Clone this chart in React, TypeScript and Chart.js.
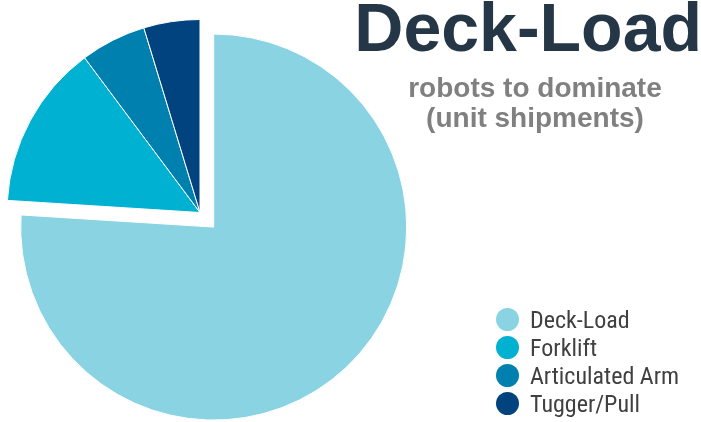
import React, { useEffect, useRef } from "react";
import { Chart, registerables } from "chart.js";

Chart.register(...registerables);

const categories = ["Deck-Load", "Forklift", "Articulated Arm", "Tugger/Pull"];
const shipments = [76, 13.8, 5.5, 4.7];
const sliceColors = ["#89d3e3", "#00b1d2", "#0080ae", "#00437f"];
const explode = [20, 0, 0, 0];
const titleText = "Deck-Load";
const subtitleLines = ["robots to dominate", "(unit shipments)"];

const explodePlugin = {
  id: "explodeSlices",
  beforeDatasetsDraw(chart: any) {
    const meta = chart.getDatasetMeta(0);
    const area = chart.chartArea;
    const cx = (area.left + area.right) / 2 + (meta.controller.offsetX || 0);
    const cy = (area.top + area.bottom) / 2 + (meta.controller.offsetY || 0);
    meta.data.forEach((arc: any, i: number) => {
      const d = explode[i] || 0;
      const half = (arc.startAngle + arc.endAngle) / 2;
      arc.x = cx + Math.cos(half) * d;
      arc.y = cy + Math.sin(half) * d;
    });
  },
};

export default function App() {
  const canvasRef = useRef<HTMLCanvasElement | null>(null);

  useEffect(() => {
    if (!canvasRef.current) return;
    const chart = new Chart(canvasRef.current, {
      type: "pie",
      data: {
        labels: categories,
        datasets: [
          {
            data: shipments,
            backgroundColor: sliceColors,
            borderColor: "#ffffff",
            borderWidth: 1,
          },
        ],
      },
      options: {
        responsive: true,
        maintainAspectRatio: false,
        animation: false,
        events: [],
        layout: { padding: { left: 6.5, top: 19, right: 307.5, bottom: 16 } },
        plugins: {
          legend: { display: false },
          tooltip: { enabled: false },
          title: { display: false },
        },
      },
      plugins: [explodePlugin],
    });
    return () => chart.destroy();
  }, []);

  return (
    <div
      style={{
        position: "fixed",
        left: 0,
        top: 0,
        width: 701,
        height: 422,
        background: "#ffffff",
        overflow: "hidden",
      }}
    >
      <canvas ref={canvasRef} style={{ position: "absolute", left: 0, top: 0 }} />
      <div
        style={{
          position: "absolute",
          left: 300,
          width: 402,
          top: -7,
          textAlign: "right",
          fontFamily: "'Liberation Sans', Arial, sans-serif",
          fontWeight: "bold",
          fontSize: 68,
          lineHeight: "68px",
          color: "#253746",
          whiteSpace: "nowrap",
        }}
      >
        {titleText}
      </div>
      <div
        style={{
          position: "absolute",
          left: 385,
          width: 300,
          top: 72.5,
          textAlign: "center",
          fontFamily: "'Liberation Sans', Arial, sans-serif",
          fontWeight: "bold",
          fontSize: 28,
          lineHeight: "30px",
          color: "#808080",
          whiteSpace: "nowrap",
        }}
      >
        {subtitleLines.map((l, i) => (
          <div key={i}>{l}</div>
        ))}
      </div>
      <div style={{ position: "absolute", left: 496, top: 305 }}>
        {categories.map((c, i) => (
          <div
            key={c}
            style={{ display: "flex", alignItems: "center", height: 28 }}
          >
            <span
              style={{
                display: "inline-block",
                width: 23,
                height: 23,
                borderRadius: "50%",
                background: sliceColors[i],
                marginRight: 11,
                flex: "0 0 auto",
              }}
            />
            <span
              style={{
                fontFamily:
                  "'Roboto Condensed', 'Liberation Sans Narrow', 'DejaVu Sans Condensed', Roboto, sans-serif",
                fontSize: 24,
                color: "#404040",
                whiteSpace: "nowrap",
                lineHeight: "28px",
                position: "relative",
                top: 1,
              }}
            >
              {c}
            </span>
          </div>
        ))}
      </div>
    </div>
  );
}
